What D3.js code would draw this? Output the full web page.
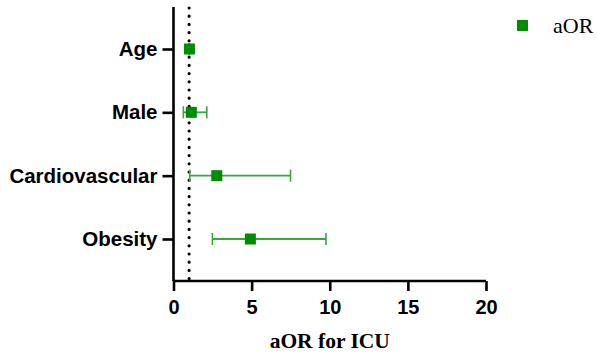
<!DOCTYPE html>
<html>
<head>
<meta charset="utf-8">
<script src="https://cdn.jsdelivr.net/npm/d3@7"></script>
<style>
  body { margin: 0; background: #fff; }
  svg { display: block; }
</style>
</head>
<body>
<svg id="chart" width="597" height="355"></svg>
<script>
// data
var categories = ["Age", "Male", "Cardiovascular", "Obesity"];
var aor = [1.02, 1.14, 2.77, 4.92];
var ciLow = [1.0, 0.63, 1.04, 2.49];
var ciHigh = [1.04, 2.13, 7.49, 9.76];
var xTicks = [0, 5, 10, 15, 20];
var refLine = 1;

var svg = d3.select("#chart");
var plotLeft = 173.5, plotRight = 486, plotTop = 7, plotBottom = 281;

var x = d3.scaleLinear().domain([0, 20]).range([plotLeft, plotRight]);
var y = d3.scalePoint().domain(categories).range([plotTop, plotBottom]).padding(0.663);

var green = "#008c00";
var barGreen = "#3aa63a";

// reference dotted line at aOR = 1
svg.append("line")
  .attr("x1", x(refLine)).attr("x2", x(refLine))
  .attr("y1", plotTop + 1).attr("y2", plotBottom)
  .attr("stroke", "#000")
  .attr("stroke-width", 3.2)
  .attr("stroke-linecap", "round")
  .attr("stroke-dasharray", "0,8.2");

// x axis
var xAxis = svg.append("g")
  .attr("transform", "translate(0," + plotBottom + ")")
  .call(d3.axisBottom(x).tickValues(xTicks).tickSize(10).tickPadding(6).tickFormat(d3.format("d")));
// y axis
var yAxis = svg.append("g")
  .attr("transform", "translate(" + plotLeft + ",0)")
  .call(d3.axisLeft(y).tickSize(11).tickPadding(5));

[xAxis, yAxis].forEach(function(g) {
  g.select(".domain").attr("stroke", "#000").attr("stroke-width", 2.6);
  g.selectAll(".tick line").attr("stroke", "#000").attr("stroke-width", 2.6);
  g.selectAll(".tick text")
    .attr("fill", "#000")
    .style("font-family", "'Liberation Sans', Arial, sans-serif")
    .style("font-weight", "bold")
    .style("font-size", "20.5px");
});
xAxis.select(".domain").attr("d", "M" + plotLeft + ",0H" + plotRight);
yAxis.select(".domain").attr("d", "M0," + plotTop + "V" + plotBottom);
xAxis.selectAll(".tick text").attr("dy", "0.85em").style("font-size", "20px");

// error bars
var pts = categories.map(function(c, i) {
  return { cat: c, v: aor[i], lo: ciLow[i], hi: ciHigh[i] };
});

var eb = svg.selectAll("g.eb").data(pts).enter().append("g").attr("class", "eb");
eb.append("line")
  .attr("x1", function(d) { return x(d.lo); })
  .attr("x2", function(d) { return x(d.hi); })
  .attr("y1", function(d) { return y(d.cat); })
  .attr("y2", function(d) { return y(d.cat); })
  .attr("stroke", barGreen).attr("stroke-width", 1.8);
eb.selectAll("line.cap")
  .data(function(d) { return [[d.lo, d.cat], [d.hi, d.cat]]; })
  .enter().append("line")
  .attr("class", "cap")
  .attr("x1", function(d) { return x(d[0]); })
  .attr("x2", function(d) { return x(d[0]); })
  .attr("y1", function(d) { return y(d[1]) - 6; })
  .attr("y2", function(d) { return y(d[1]) + 6; })
  .attr("stroke", barGreen).attr("stroke-width", 1.6);

// point estimates
var sq = 11;
svg.selectAll("rect.pt").data(pts).enter().append("rect")
  .attr("class", "pt")
  .attr("x", function(d) { return x(d.v) - sq / 2; })
  .attr("y", function(d) { return y(d.cat) - sq / 2; })
  .attr("width", sq).attr("height", sq)
  .attr("fill", green);

// x axis title
svg.append("text")
  .attr("x", (plotLeft + plotRight) / 2)
  .attr("y", 348)
  .attr("text-anchor", "middle")
  .style("font-family", "'Liberation Serif', 'Times New Roman', serif")
  .style("font-weight", "bold")
  .style("font-size", "21.5px")
  .text("aOR for ICU");

// legend
svg.append("rect")
  .attr("x", 517).attr("y", 20).attr("width", 11).attr("height", 11)
  .attr("fill", green);
svg.append("text")
  .attr("x", 553).attr("y", 33)
  .style("font-family", "'Liberation Serif', 'Times New Roman', serif")
  .style("font-size", "22px")
  .text("aOR");
</script>
</body>
</html>
